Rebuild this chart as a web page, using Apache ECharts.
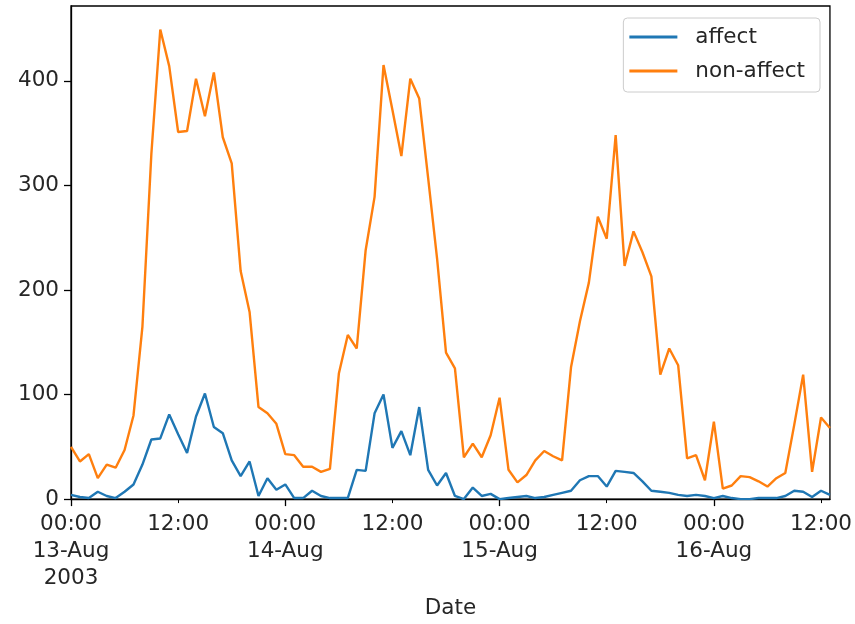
<!DOCTYPE html>
<html>
<head>
<meta charset="utf-8">
<script src="https://cdn.jsdelivr.net/npm/echarts@6/dist/echarts.min.js"></script>
<style>
html,body{margin:0;padding:0;background:#fff;}
#chart{width:855px;height:624px;}
</style>
</head>
<body>
<div id="chart"></div>
<script>
// Hourly samples starting 13-Aug-2003 00:00
const startDay = 13;
const monthName = 'Aug';
const yearLabel = '2003';
const seriesNames = ['affect', 'non-affect'];
const affect = [4,2,1,7,3,1,7,14,33,57,58,81,62,44,79,101,69,63,37,22,36,3,20,9,14,1,1,8,3,1,1,1,28,27,82,100,49,65,42,88,28,13,25,3,0,11,3,5,0,1,2,3,1,2,4,6,8,18,22,22,12,27,26,25,17,8,7,6,4,3,4,3,1,3,1,0,0,1,1,1,3,8,7,2,8,4];
const nonAffect = [50,36,43,20,33,30,47,80,165,330,449,414,351,352,402,366,408,346,321,218,179,88,82,72,43,42,31,31,26,29,120,157,144,238,289,415,372,328,402,383,307,230,140,125,40,53,40,61,97,28,16,23,37,46,41,37,126,170,207,270,249,348,223,256,236,213,119,144,128,39,42,18,74,10,13,22,21,17,12,20,25,71,119,26,78,68];
const xTickHours = [0,12,24,36,48,60,72,84];
const majorTickHours = [0,24,48,72];
const minorTickHours = [12,36,60,84];
const yTicks = [0,100,200,300,400];
const colors = ['#1f77b4', '#ff7f0e'];

const FONT = 'DejaVu Sans';
const FS = 21.5;
const TXT = '#262626';

function toPairs(arr){ return arr.map((v,i)=>[i, v]); }
function xLabel(v){
  if (v % 24 === 0) {
    const d = startDay + v/24;
    let s = '00:00\n' + d + '-' + monthName;
    if (v === 0) s += '\n' + yearLabel;
    return s;
  }
  return '12:00';
}

const chart = echarts.init(document.getElementById('chart'), null, {renderer:'canvas'});
chart.setOption({
  animation:false,
  backgroundColor:'#fff',
  grid:{left:71, right:24, top:6, bottom:123, show:true, borderColor:'#000', borderWidth:1.3, backgroundColor:'transparent'},
  legend:{
    orient:'vertical', right:35, top:18,
    data:seriesNames,
    icon:'rect', itemWidth:48, itemHeight:3, itemGap:10,
    padding:[7,15,9,6],
    backgroundColor:'rgba(255,255,255,0.8)', borderColor:'#cccccc', borderWidth:1, borderRadius:4,
    textStyle:{fontFamily:FONT, fontSize:FS, color:TXT, lineHeight:24, padding:[0,0,0,13]}
  },
  xAxis:[{
    type:'value', min:0, max:85,
    name:'Date', nameLocation:'middle', nameGap:97,
    nameTextStyle:{fontFamily:FONT, fontSize:FS, color:TXT},
    axisLine:{show:true, lineStyle:{color:'#000', width:1.3}},
    axisTick:{show:true, customValues:majorTickHours, length:7, inside:false, lineStyle:{color:'#000', width:1.3}},
    axisLabel:{customValues:xTickHours, formatter:xLabel, fontFamily:FONT, fontSize:FS, color:TXT, lineHeight:27, margin:12, align:'center'},
    splitLine:{show:false}
  },{
    type:'value', min:0, max:85, position:'bottom',
    axisLine:{show:false},
    axisTick:{show:true, customValues:minorTickHours, length:4, lineStyle:{color:'#000', width:1}},
    axisLabel:{show:false},
    splitLine:{show:false}
  }],
  yAxis:{
    type:'value', min:0, max:471.5,
    axisLine:{show:true, lineStyle:{color:'#000', width:1.3}},
    axisTick:{show:true, customValues:yTicks, length:7, lineStyle:{color:'#000', width:1.3}},
    axisLabel:{customValues:yTicks, fontFamily:FONT, fontSize:FS, color:TXT, margin:12},
    splitLine:{show:false}
  },
  series:[
    {name:seriesNames[0], type:'line', data:toPairs(affect), symbol:'none', color:colors[0], lineStyle:{width:2.4, color:colors[0]}, z:3},
    {name:seriesNames[1], type:'line', data:toPairs(nonAffect), symbol:'none', color:colors[1], lineStyle:{width:2.4, color:colors[1]}, z:2}
  ]
});
</script>
</body>
</html>
